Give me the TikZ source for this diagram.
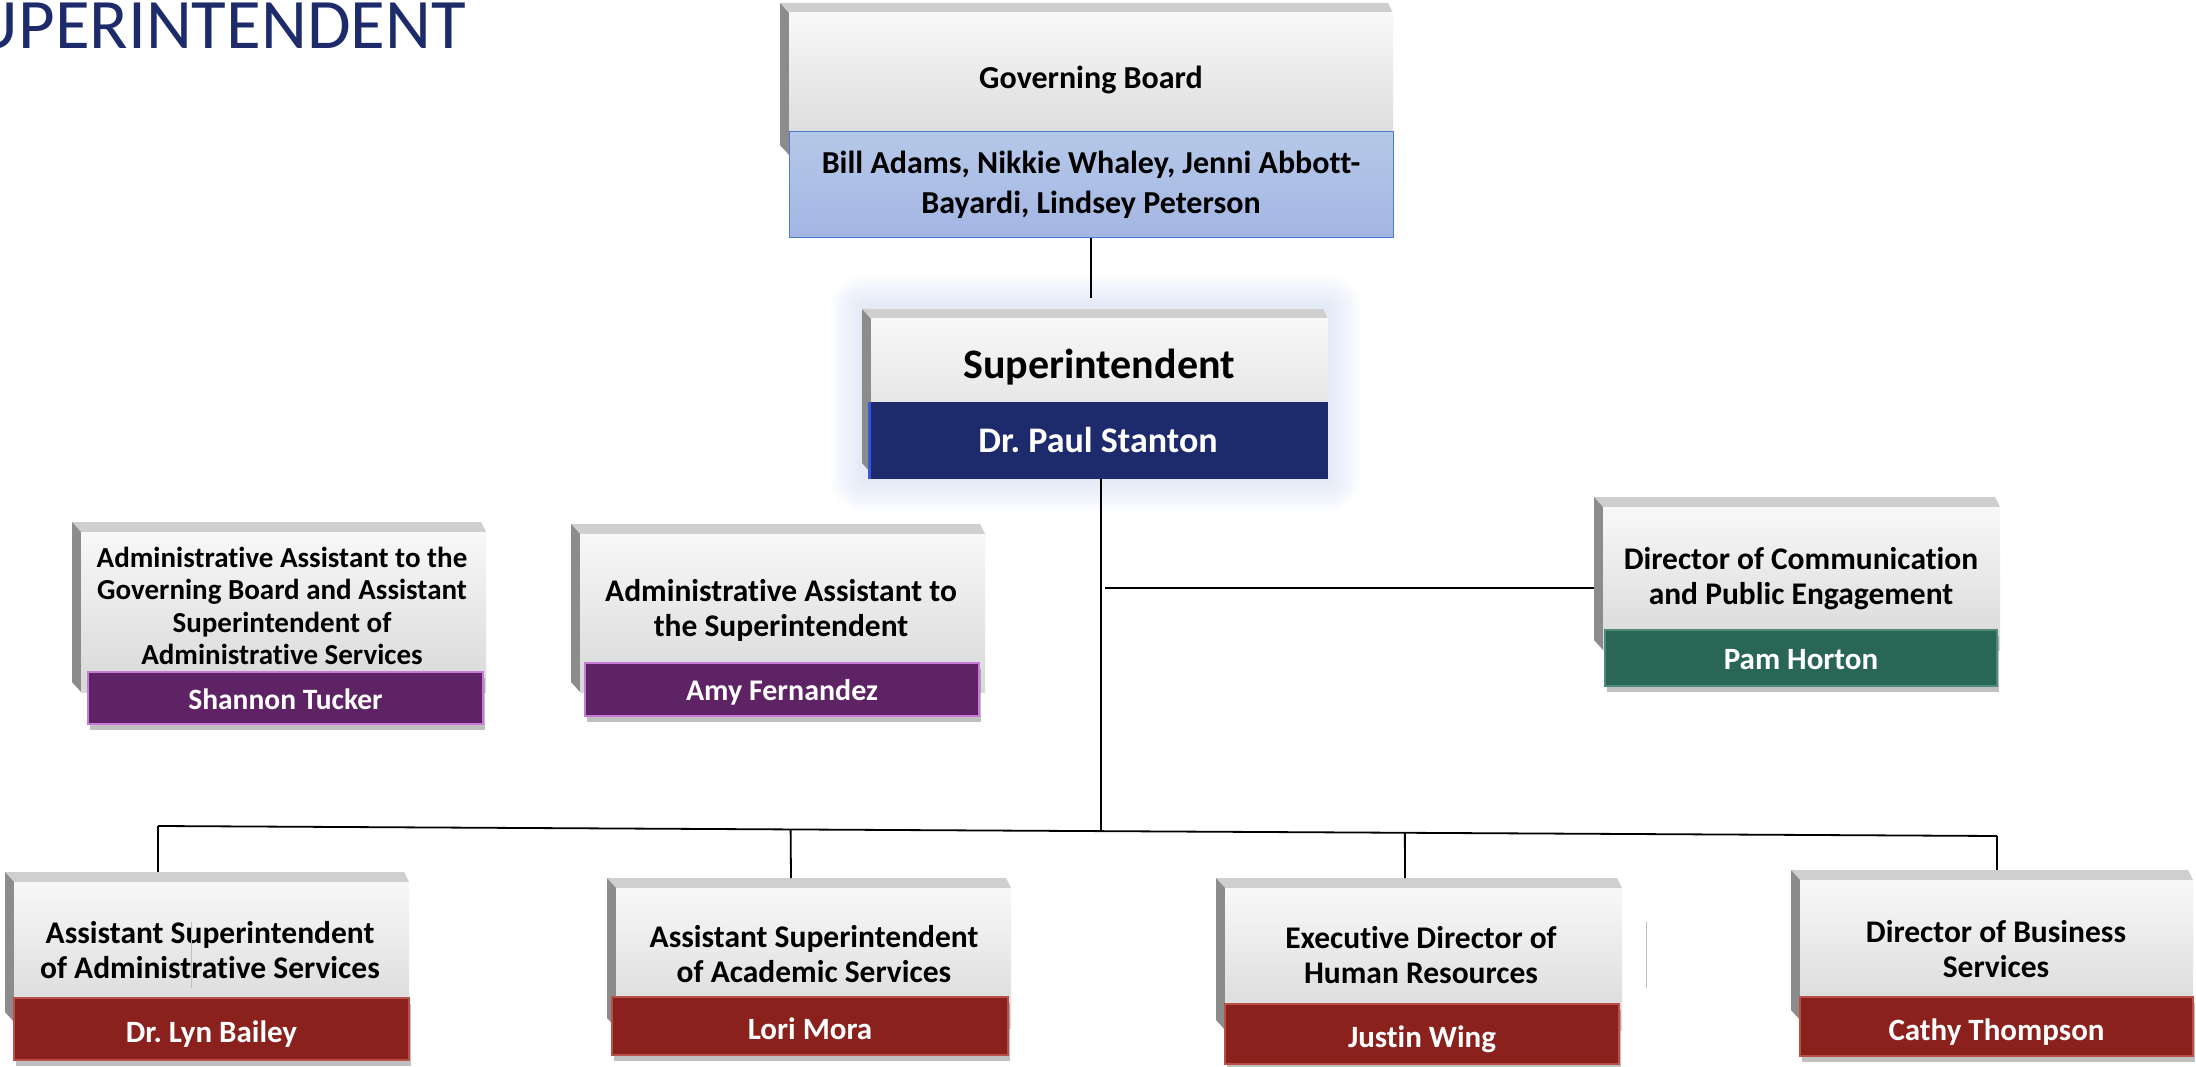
\documentclass[tikz,border=0pt]{standalone}
\usepackage{fontspec}
\setmainfont{Carlito}[Ligatures=NoCommon]
\usetikzlibrary{shadows,calc}
\frenchspacing
\definecolor{titleblue}{HTML}{1E2B6B}
\definecolor{navyc}{HTML}{1D2A6C}
\definecolor{navyedge}{HTML}{3A56D8}
\definecolor{purplec}{HTML}{5E2365}
\definecolor{purpleedge}{HTML}{C77BD6}
\definecolor{greenc}{HTML}{2A6656}
\definecolor{greenedge}{HTML}{4E8A78}
\definecolor{redc}{HTML}{8A211C}
\definecolor{rededge}{HTML}{B8504A}
\definecolor{bluetop}{HTML}{B6C8E8}
\definecolor{bluebot}{HTML}{A3B6E3}
\definecolor{blueedge}{HTML}{4A7BD0}
\definecolor{facetop}{HTML}{F8F8F8}
\definecolor{facebot}{HTML}{D8D8D8}
\definecolor{bevtopc}{HTML}{CFCFCF}
\definecolor{bevleftc}{HTML}{8C8C8C}
\definecolor{glowc}{HTML}{B9CDEE}
\newcommand\cardbody[4]{%
  \fill[bevtopc] (#1-9,#2-10) -- (#3-5,#2-10) -- (#3,#2) -- (#1,#2) -- cycle;
  \fill[bevleftc] (#1-9,#2-10) -- (#1,#2) -- (#1,#4) -- (#1-9,#4-10) -- cycle;
  \shade[top color=facetop, bottom color=facebot] (#1,#2) rectangle (#3,#4);
}
\begin{document}
\begin{tikzpicture}[x=1pt,y=-1pt,
  conn/.style={draw=black, line width=1.8pt},
  cardtext/.style={align=center, inner sep=0pt, text=black,
    font=\bfseries\fontsize{31.5}{35}\selectfont},
  namebox/.style={inner sep=0pt, text=white, line width=1.2pt,
    font=\bfseries\fontsize{31}{35}\selectfont, text height=30pt, text depth=8pt,
    drop shadow={shadow xshift=2pt, shadow yshift=-6pt, opacity=0.35, fill=black!70}},
  redbox/.style={namebox, fill=redc, draw=rededge, text height=35pt},
  purplebox/.style={namebox, fill=purplec, draw=purpleedge},
  greenbox/.style={namebox, fill=greenc, draw=greenedge}
]
\fill[white] (0,0) rectangle (2196,1067);
\useasboundingbox (0,0) rectangle (2196,1067);

% title
\node[anchor=base east, inner sep=0pt, text=titleblue,
  font=\fontsize{71}{80}\selectfont] (title) at (466,49) {UPERINTENDENT};

% Governing board
\cardbody{789}{13}{1393}{155}
\node[cardtext, font=\bfseries\fontsize{32}{36}\selectfont] (gbt) at (1091,80) {Governing Board};
\node[inner sep=0pt, minimum width=604, minimum height=106,
  top color=bluetop, bottom color=bluebot, draw=blueedge, line width=1pt,
  align=center, font=\bfseries\fontsize{32}{40.5}\selectfont] (board) at (1091,185)
  {Bill Adams, Nikkie Whaley, Jenni Abbott-\\Bayardi, Lindsey Peterson};

% Superintendent glow
\foreach \g in {4,8,...,32} {
  \fill[glowc, opacity=0.05, rounded corners=\g pt] (863-\g,308-\g) rectangle (1328+\g,479+\g);
}
\cardbody{871}{319}{1328}{473}
\node[cardtext, font=\bfseries\fontsize{42}{48}\selectfont] (spt) at (1099,367) {Superintendent};
\node[inner sep=0pt, minimum width=460, minimum height=77, fill=navyc,
  text=white, font=\bfseries\fontsize{36}{40}\selectfont] (sup) at (1098,440.5) {Dr. Paul Stanton};
\draw[navyedge, line width=3pt] ([xshift=1.5pt]sup.north west) -- ([xshift=1.5pt]sup.south west);

% Shannon Tucker
\cardbody{81}{532}{486}{692}
\node[cardtext, font=\bfseries\fontsize{29}{32.3}\selectfont] (shat) at (282,606) {Administrative Assistant to the\\Governing Board and Assistant\\Superintendent of\\Administrative Services};
\node[purplebox, font=\bfseries\fontsize{29.5}{34}\selectfont, minimum width=395, minimum height=52] (sha) at (285.5,698) {Shannon Tucker};

% Amy Fernandez
\cardbody{580}{534}{985}{692}
\node[cardtext] (amyt) at (781,610) {Administrative Assistant to\\the Superintendent};
\node[purplebox, font=\bfseries\fontsize{30}{34}\selectfont, minimum width=394, minimum height=53] (amy) at (782,689.5) {Amy Fernandez};

% Pam Horton
\cardbody{1603}{507}{2000}{650}
\node[cardtext] (pamt) at (1801,579) {Director of Communication\\and Public Engagement};
\node[greenbox, minimum width=392, minimum height=56] (pam) at (1801,658) {Pam Horton};

% Lyn Bailey
\cardbody{14}{882}{409}{1022}
\node[cardtext] (lynt) at (210,950) {Assistant Superintendent\\of Administrative Services};
\node[redbox, minimum width=395, minimum height=62] (lyn) at (211.5,1029) {Dr. Lyn Bailey};

% Lori Mora
\cardbody{616}{888}{1011}{1028}
\node[cardtext] (lorit) at (814,954.5) {Assistant Superintendent\\of Academic Services};
\node[redbox, minimum width=396, minimum height=58] (lori) at (810,1026) {Lori Mora};

% Justin Wing
\cardbody{1225}{888}{1622}{1030}
\node[cardtext] (justt) at (1421,955.5) {Executive Director of\\Human Resources};
\node[redbox, minimum width=394, minimum height=60] (just) at (1422,1034) {Justin Wing};

% Cathy Thompson
\cardbody{1800}{880}{2193}{1020}
\node[cardtext] (catt) at (1996,949) {Director of Business\\Services};
\node[redbox, minimum width=393, minimum height=59] (cat) at (1996.5,1026.5) {Cathy Thompson};

% faint artifact lines
\draw[black!25, line width=1pt] (191,922) -- (191,988);
\draw[black!25, line width=1pt] (1646,922) -- (1646,988);

% connectors
\coordinate (gbend) at (1091,298);
\draw[conn] (board.south) -- (gbend);
\coordinate (tbot) at (1101,831);
\draw[conn] (sup.south -| tbot) -- (tbot);
\coordinate (pj) at (1105,588);
\coordinate (pamedge) at (1594,588);
\draw[conn] (pj) -- (pamedge);
\coordinate (busL) at (158,826);
\coordinate (busR) at (1997,836);
\draw[conn] (busL) -- (busR);
\draw[conn] (busL) -- (158,872);
\draw[conn] ($(busL)!0.344!(busR)$) -- (791,878);
\draw[conn] ($(busL)!0.678!(busR)$) -- (1405,878);
\draw[conn] (busR) -- (1997,870);
\end{tikzpicture}
\end{document}
